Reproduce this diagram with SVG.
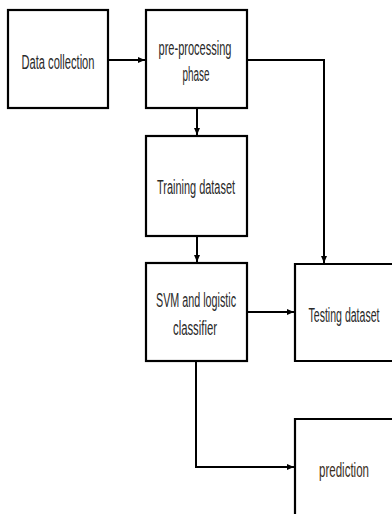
<svg xmlns="http://www.w3.org/2000/svg" width="392" height="514" viewBox="0 0 392 514">
<style>
.box{fill:#fff;stroke:#000;stroke-width:2.2}
.t{font-family:"Liberation Sans",Arial,sans-serif;font-size:20px;fill:#2a2a2a;text-anchor:middle}
.c{fill:none;stroke:#000;stroke-width:2}
</style>
<defs>
<marker id="ah" markerUnits="userSpaceOnUse" markerWidth="8" markerHeight="8" refX="7" refY="4" orient="auto">
<path d="M0,1 L7,4 L0,7 Z" fill="#000"/>
</marker>
</defs>
<rect width="392" height="514" fill="#fff"/>
<g id="connectors">
<path class="c" d="M108,60 H145" marker-end="url(#ah)"/>
<path class="c" d="M197,108 V135" marker-end="url(#ah)"/>
<path class="c" d="M247,60 H324 V263" marker-end="url(#ah)"/>
<path class="c" d="M197,236 V262" marker-end="url(#ah)"/>
<path class="c" d="M247,312 H294" marker-end="url(#ah)"/>
<path class="c" d="M196,361 V467 H294" marker-end="url(#ah)"/>
</g>
<g id="data-collection">
<rect class="box" x="8" y="10" width="100" height="98"/>
<text class="t" transform="translate(58,69) scale(0.55,1)" textLength="132.7" lengthAdjust="spacingAndGlyphs">Data collection</text>
</g>
<g id="pre-processing">
<rect class="box" x="146" y="10" width="101" height="98"/>
<text class="t" transform="translate(195,55) scale(0.55,1)" textLength="132.7" lengthAdjust="spacingAndGlyphs">pre-processing</text>
<text class="t" transform="translate(196,81) scale(0.55,1)" textLength="49.1" lengthAdjust="spacingAndGlyphs">phase</text>
</g>
<g id="training-dataset">
<rect class="box" x="146" y="136" width="101" height="100"/>
<text class="t" transform="translate(196,194) scale(0.55,1)" textLength="141.8" lengthAdjust="spacingAndGlyphs">Training dataset</text>
</g>
<g id="svm">
<rect class="box" x="146" y="263" width="101" height="98"/>
<text class="t" transform="translate(196,307) scale(0.55,1)" textLength="145.5" lengthAdjust="spacingAndGlyphs">SVM and logistic</text>
<text class="t" transform="translate(195,335) scale(0.55,1)" textLength="80" lengthAdjust="spacingAndGlyphs">classifier</text>
</g>
<g id="testing-dataset">
<path class="box" d="M392,264 H295 V361 H392"/>
<text class="t" transform="translate(344,322) scale(0.55,1)" textLength="129.1" lengthAdjust="spacingAndGlyphs">Testing dataset</text>
</g>
<g id="prediction">
<path class="box" d="M392,419 H295 V514"/>
<text class="t" transform="translate(344,477) scale(0.55,1)" textLength="90.9" lengthAdjust="spacingAndGlyphs" style="fill:#3a2e1c">prediction</text>
</g>
</svg>
